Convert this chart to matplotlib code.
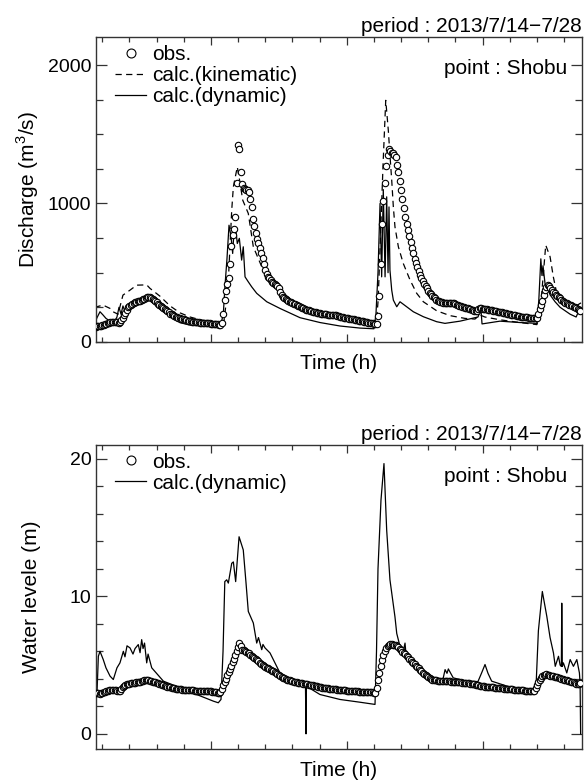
import numpy as np
import matplotlib
matplotlib.use('Agg')
import matplotlib.pyplot as plt
from matplotlib.ticker import MultipleLocator, NullFormatter

plt.rcParams['font.family'] = ['Liberation Sans', 'DejaVu Sans']
plt.rcParams['mathtext.fontset'] = 'custom'
plt.rcParams['mathtext.rm'] = 'Liberation Sans'

# hourly observations, starting at hour 315
t_start = 315
q_obs = [
    110, 112, 114, 116, 118, 121, 123, 126, 130, 134,
    138, 141, 144, 146, 145, 143, 141, 140, 142, 155,
    175, 195, 212, 232, 250, 262, 270, 276, 281, 286,
    290, 294, 296, 299, 303, 308, 313, 318, 322, 325,
    326, 320, 312, 303, 294, 285, 277, 269, 261, 253,
    245, 237, 229, 221, 213, 205, 199, 193, 188, 183,
    179, 175, 171, 168, 165, 162, 159, 156, 153, 150,
    148, 146, 145, 144, 143, 142, 141, 140, 139, 138,
    137, 137, 136, 135, 134, 133, 132, 131, 130, 128,
    126, 124, 122, 140, 200, 300, 370, 420, 460, 560,
    690, 775, 815, 900, 1150, 1420, 1390, 1230, 1140, 1110,
    1105, 1096, 1100, 1085, 1030, 975, 890, 840, 790, 745,
    712, 675, 645, 605, 560, 520, 490, 472, 462, 450,
    436, 425, 416, 410, 404, 390, 358, 338, 325, 317,
    309, 302, 296, 290, 285, 280, 276, 271, 266, 261,
    256, 251, 246, 242, 238, 234, 230, 227, 224, 221,
    218, 215, 213, 211, 209, 207, 205, 203, 201, 200,
    199, 198, 197, 196, 196, 195, 195, 193, 190, 186,
    183, 180, 178, 176, 174, 172, 170, 168, 166, 164,
    162, 160, 158, 156, 154, 152, 150, 148, 146, 144,
    142, 140, 138, 136, 134, 132, 129, 126, 190, 330,
    560, 850, 1020, 1150, 1270, 1350, 1390, 1380, 1368, 1362,
    1352, 1335, 1280, 1225, 1160, 1095, 1035, 970, 905, 855,
    810, 765, 725, 680, 640, 600, 570, 540, 510, 485,
    462, 440, 420, 403, 386, 370, 355, 343, 332, 322,
    314, 306, 299, 293, 289, 286, 284, 282, 281, 280,
    280, 281, 282, 281, 278, 274, 270, 266, 262, 258,
    255, 252, 248, 245, 242, 238, 235, 231, 228, 225,
    222, 222, 235, 242, 242, 240, 238, 236, 235, 233,
    231, 229, 227, 225, 223, 221, 219, 217, 215, 213,
    211, 209, 207, 205, 203, 200, 198, 196, 193, 191,
    189, 186, 184, 182, 181, 180, 179, 178, 177, 176,
    175, 174, 173, 172, 171, 170, 200, 235, 265, 295,
    340, 374, 400, 410, 405, 390, 375, 362, 352, 342,
    332, 323, 315, 305, 295, 288, 283, 278, 273, 268,
    264, 259, 255, 250, 245, 238, 230, 222,
]

h_obs = [
    3.00, 2.98, 2.95, 2.93, 2.96, 3.00, 3.03, 3.07, 3.10, 3.13,
    3.16, 3.19, 3.21, 3.22, 3.20, 3.16, 3.12, 3.10, 3.10, 3.25,
    3.42, 3.50, 3.55, 3.60, 3.64, 3.66, 3.68, 3.70, 3.72, 3.73,
    3.74, 3.75, 3.76, 3.79, 3.82, 3.85, 3.88, 3.90, 3.90, 3.88,
    3.86, 3.83, 3.80, 3.77, 3.74, 3.71, 3.68, 3.64, 3.60, 3.56,
    3.53, 3.50, 3.46, 3.43, 3.40, 3.38, 3.36, 3.33, 3.31, 3.29,
    3.28, 3.26, 3.25, 3.24, 3.22, 3.21, 3.20, 3.19, 3.18, 3.17,
    3.17, 3.16, 3.16, 3.15, 3.15, 3.14, 3.14, 3.13, 3.13, 3.12,
    3.12, 3.11, 3.10, 3.10, 3.09, 3.08, 3.07, 3.06, 3.04, 3.02,
    3.00, 2.99, 3.05, 3.25, 3.55, 3.80, 4.00, 4.25, 4.50, 4.70,
    4.95, 5.20, 5.45, 5.75, 6.00, 6.30, 6.60, 6.40, 6.12, 6.08,
    6.00, 5.96, 5.90, 5.85, 5.76, 5.67, 5.57, 5.50, 5.43, 5.35,
    5.27, 5.18, 5.11, 5.04, 4.96, 4.88, 4.81, 4.76, 4.71, 4.66,
    4.60, 4.55, 4.47, 4.40, 4.32, 4.25, 4.19, 4.14, 4.09, 4.04,
    3.99, 3.95, 3.92, 3.89, 3.86, 3.83, 3.80, 3.77, 3.74, 3.72,
    3.70, 3.68, 3.67, 3.65, 3.63, 3.61, 3.60, 3.58, 3.56, 3.54,
    3.52, 3.50, 3.48, 3.46, 3.44, 3.40, 3.38, 3.36, 3.34, 3.33,
    3.32, 3.30, 3.29, 3.28, 3.26, 3.25, 3.24, 3.23, 3.22, 3.21,
    3.20, 3.19, 3.18, 3.17, 3.16, 3.15, 3.14, 3.13, 3.12, 3.11,
    3.10, 3.09, 3.08, 3.08, 3.07, 3.06, 3.05, 3.05, 3.04, 3.04,
    3.03, 3.03, 3.02, 3.02, 3.01, 3.00, 2.99, 3.30, 3.90, 4.40,
    4.90, 5.40, 5.75, 6.05, 6.25, 6.40, 6.48, 6.50, 6.50, 6.49,
    6.48, 6.43, 6.36, 6.28, 6.18, 6.08, 5.98, 5.88, 5.78, 5.66,
    5.56, 5.46, 5.36, 5.26, 5.16, 5.06, 4.96, 4.86, 4.76, 4.66,
    4.56, 4.46, 4.36, 4.26, 4.19, 4.10, 4.04, 3.98, 3.94, 3.91,
    3.89, 3.88, 3.87, 3.86, 3.85, 3.85, 3.84, 3.84, 3.83, 3.83,
    3.82, 3.81, 3.80, 3.79, 3.79, 3.78, 3.77, 3.76, 3.75, 3.74,
    3.73, 3.72, 3.71, 3.70, 3.69, 3.67, 3.65, 3.63, 3.61, 3.59,
    3.57, 3.55, 3.53, 3.51, 3.50, 3.48, 3.46, 3.44, 3.43, 3.41,
    3.40, 3.39, 3.38, 3.37, 3.36, 3.35, 3.34, 3.33, 3.32, 3.31,
    3.30, 3.29, 3.28, 3.27, 3.26, 3.25, 3.24, 3.23, 3.22, 3.21,
    3.21, 3.20, 3.19, 3.18, 3.17, 3.16, 3.15, 3.14, 3.13, 3.12,
    3.11, 3.10, 3.10, 3.09, 3.30, 3.55, 3.75, 3.90, 4.05, 4.18,
    4.25, 4.30, 4.32, 4.30, 4.27, 4.24, 4.21, 4.19, 4.16, 4.13,
    4.10, 4.07, 4.04, 4.01, 3.98, 3.95, 3.92, 3.89, 3.86, 3.83,
    3.80, 3.77, 3.74, 3.70, 3.66, 3.62, 3.60, 3.70,
]

# calculated discharge, kinematic wave model
q_kin_t = [315, 315.9, 320.5, 325.7, 327.9, 331.6, 335.2, 340.4, 345.3, 352.7,
           355.1, 362.5, 369.9, 377.2, 384.6, 392.0, 399.3, 406.7, 409.6, 412.6,
           415.3, 416.5, 419.4, 421.4, 423.4, 427.5, 431.2, 437.4, 444.7, 450.8,
           465.6, 480.3, 495.0, 506.0, 517.0, 521.6, 523.1, 524.6, 526.8, 528.7,
           530.6, 531.9, 533.1, 534.3, 535.5, 538.0, 541.6, 546.6, 551.5, 556.4,
           566.2, 576.0, 587.0, 594.4, 598.0, 601.7, 612.7, 627.4, 640.0, 642.2,
           644.4, 646.5, 649.7, 652.1, 654.6, 659.5, 664.4, 668.1, 672.9]
q_kin = [240, 254, 266, 242, 218, 200, 338, 374, 410, 412,
         387, 330, 260, 210, 180, 160, 148, 140, 150, 400,
         952, 1120, 1264, 1150, 1024, 928, 687, 543, 447, 374,
         250, 200, 160, 140, 120, 118, 300, 700, 1300, 1745,
         1528, 1336, 1168, 975, 831, 687, 567, 447, 351, 290,
         225, 190, 170, 165, 195, 180, 160, 140, 125, 200,
         450, 699, 615, 470, 351, 278, 250, 255, 285]

# calculated discharge, dynamic wave model
q_dyn_t = [315, 316.1, 318.3, 320.5, 322.7, 325.7, 328.6, 330.8, 332.3, 333.8,
           335.2, 336.7, 338.9, 342.6, 347.8, 353.7, 357.6, 364.9, 372.3, 377.2,
           384.6, 401.5, 406.7, 409.1, 410.3, 411.8, 413.3, 414.8, 416.0, 417.0,
           418.2, 419.4, 420.9, 422.6, 423.8, 425.1, 427.5, 430.0, 433.7, 441.1,
           450.8, 465.6, 480.3, 495.0, 509.7, 520.0, 521.5, 523.0, 524.5, 525.7,
           526.9, 528.2, 529.4, 530.4, 531.1, 531.8, 533.1, 534.3, 536.8, 539.2,
           549.0, 556.4, 566.2, 572.3, 583.4, 596.6, 598.8, 599.6, 612.8, 627.5,
           640.0, 641.4, 642.9, 643.7, 644.5, 646.0, 647.4, 649.7, 653.4, 657.1,
           664.5, 668.9, 671.1, 673.0]
q_dyn = [150, 175, 218, 195, 170, 150, 140, 180, 250, 200,
         260, 220, 270, 285, 300, 310, 278, 218, 170, 139,
         122, 110, 105, 200, 400, 600, 843, 760, 639, 807,
         819, 711, 748, 591, 687, 470, 434, 398, 351, 290,
         242, 175, 140, 115, 100, 95, 200, 500, 1000, 470,
         1100, 470, 1048, 500, 975, 519, 374, 302, 254, 290,
         218, 182, 146, 134, 150, 180, 235, 130, 150, 140,
         134, 300, 600, 480, 550, 420, 400, 340, 290, 250,
         200, 180, 230, 200]

# calculated water level, dynamic wave model
h_dyn_t = [315, 316.1, 317.1, 318.3, 320.7, 322.7, 325.7, 328.1, 330.8, 333.0,
           335.5, 336.7, 338.2, 340.4, 342.6, 344.1, 346.5, 347.8, 349.0, 350.0,
           351.1, 352.7, 353.7, 356.4, 365.0, 377.2, 389.5, 401.7, 405.4, 407.4,
           408.9, 410.2, 411.6, 412.8, 415.3, 416.5, 418.2, 420.7, 423.8, 425.8,
           427.5, 431.2, 433.7, 435.0, 437.4, 438.3, 439.8, 443.5, 450.8, 460.6,
           469.6, 470.0, 470.3, 480.3, 495.0, 509.7, 520.8, 521.9, 523.0, 525.2,
           527.4, 529.4, 531.8, 535.5, 536.8, 539.2, 541.6, 542.9, 543.6, 546.6,
           553.9, 561.3, 568.7, 570.9, 572.4, 573.8, 574.8, 576.0, 578.4, 588.3,
           596.6, 599.3, 601.8, 604.0, 606.7, 620.2, 637.4, 639.3, 641.1, 644.0,
           647.3, 649.7, 652.2, 653.5, 655.9, 657.1, 658.0, 658.3, 658.7, 659.5,
           662.0, 664.5, 666.9, 669.4, 671.3, 671.8, 672.2]
h_dyn = [3.0, 3.0, 5.64, 6.0, 5.4, 4.8, 4.2, 3.95, 4.8, 5.16,
         6.0, 5.6, 6.4, 6.25, 5.8, 6.2, 6.49, 5.9, 6.85, 6.2,
         6.6, 5.16, 5.8, 4.8, 3.83, 3.35, 2.86, 2.38, 2.26, 2.5,
         6.0, 11.07, 11.2, 10.96, 12.4, 12.5, 11.07, 14.33, 13.37, 11.0,
         8.9, 8.06, 6.6, 7.0, 6.12, 6.5, 6.25, 5.88, 4.43, 3.83,
         3.5, 0.0, 3.46, 2.86, 2.5, 2.3, 2.14, 6.0, 12.0, 17.0,
         19.65, 14.8, 11.2, 8.5, 7.3, 6.36, 6.0, 6.6, 5.8, 5.64,
         4.8, 4.19, 3.95, 4.0, 4.67, 4.4, 4.72, 4.5, 4.07, 3.83,
         3.8, 4.43, 5.04, 4.4, 3.83, 3.4, 3.1, 3.3, 7.5, 10.35,
         8.54, 7.0, 5.88, 4.91, 5.64, 5.0, 4.9, 9.5, 4.9, 5.16,
         4.43, 5.4, 4.91, 5.4, 4.43, 3.7, 0.0]

t_obs_q = t_start + np.arange(len(q_obs))
t_obs_h = t_start + np.arange(len(h_obs))

fs = 15
spine_col = '0.2'

fig = plt.figure(figsize=(5.87, 7.81), dpi=100)
ax1 = fig.add_axes([0.1627, 0.5622, 0.8283, 0.39])
ax2 = fig.add_axes([0.1627, 0.041, 0.8283, 0.3892])

obs_style = dict(linestyle='none', marker='o', markersize=4.6, markerfacecolor='white',
                 markeredgecolor='black', markeredgewidth=0.8)

# discharge
ax1.plot(q_kin_t, q_kin, color='black', linewidth=0.9, dashes=(5, 3.5), label='calc.(kinematic)', zorder=2)
ax1.plot(q_dyn_t, q_dyn, color='black', linewidth=0.9, label='calc.(dynamic)', zorder=2)
ax1.plot(t_obs_q, q_obs, label='obs.', zorder=3, **obs_style)
ax1.set_ylim(0, 2200)
ax1.yaxis.set_major_locator(MultipleLocator(1000))
ax1.yaxis.set_minor_locator(MultipleLocator(250))
ax1.set_ylabel('Discharge (m$^3$/s)', fontsize=fs)

# water level
ax2.plot(h_dyn_t, h_dyn, color='black', linewidth=0.9, label='calc.(dynamic)', zorder=2)
ax2.plot(t_obs_h, h_obs, label='obs.', zorder=3, **obs_style)
ax2.set_ylim(-1.1, 21)
ax2.yaxis.set_major_locator(MultipleLocator(10))
ax2.yaxis.set_minor_locator(MultipleLocator(2))
ax2.set_ylabel('Water levele (m)', fontsize=fs)

for ax in (ax1, ax2):
    ax.set_xlim(315, 673)
    ax.xaxis.set_major_locator(MultipleLocator(100))
    ax.xaxis.set_minor_locator(MultipleLocator(20))
    ax.xaxis.set_major_formatter(NullFormatter())
    ax.set_xlabel('Time (h)', fontsize=fs, labelpad=6)
    ax.yaxis.set_label_coords(-0.112, 0.5)
    ax.tick_params(which='both', direction='in', top=True, right=True,
                   color=spine_col, labelsize=fs - 1, pad=3)
    ax.tick_params(axis='x', which='major', length=6, width=0.9)
    ax.tick_params(axis='x', which='minor', length=3.5, width=0.9)
    ax.tick_params(axis='y', which='major', length=8, width=0.9)
    ax.tick_params(axis='y', which='minor', length=5, width=0.9)
    for sp in ax.spines.values():
        sp.set_color(spine_col)
        sp.set_linewidth(1.0)
    ax.text(1.0, 1.016, 'period : 2013/7/14\u22127/28', transform=ax.transAxes,
            ha='right', va='baseline', fontsize=fs)
    ax.text(0.97, 0.898, 'point : Shobu', transform=ax.transAxes,
            ha='right', va='center', fontsize=fs)

h, l = ax1.get_legend_handles_labels()
order = [2, 0, 1]
ax1.legend([h[i] for i in order], [l[i] for i in order], loc='upper left',
           bbox_to_anchor=(0.04, 0.975), frameon=False, fontsize=fs, borderpad=0,
           borderaxespad=0, handlelength=1.5, handletextpad=0.3, labelspacing=0.1,
           markerscale=1.4)
h, l = ax2.get_legend_handles_labels()
ax2.legend([h[1], h[0]], [l[1], l[0]], loc='upper left',
           bbox_to_anchor=(0.04, 0.975), frameon=False, fontsize=fs, borderpad=0,
           borderaxespad=0, handlelength=1.5, handletextpad=0.3, labelspacing=0.1,
           markerscale=1.4)

fig.savefig('out.png', dpi=100)
